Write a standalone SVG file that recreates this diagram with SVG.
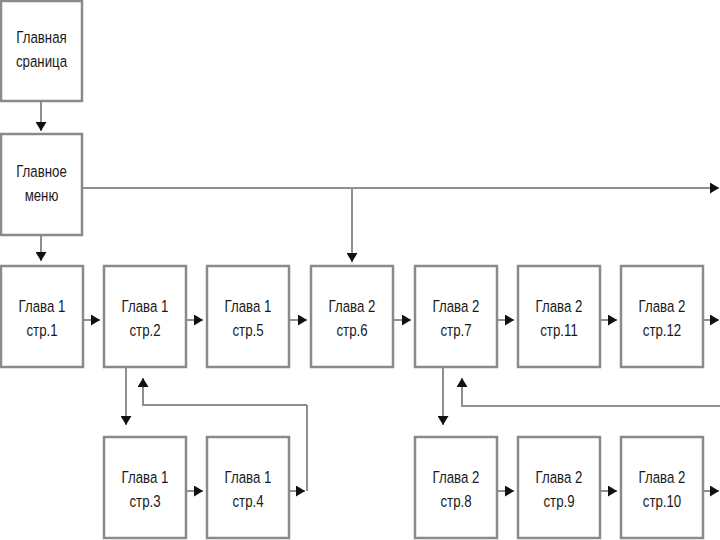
<svg xmlns="http://www.w3.org/2000/svg" width="720" height="540" viewBox="0 0 720 540">
<defs>
<marker id="ah" markerUnits="userSpaceOnUse" markerWidth="10" markerHeight="11" refX="9" refY="5.5" orient="auto">
<path d="M0,0 L9,5.5 L0,11 z" fill="#111"/>
</marker>
<style>
rect.b{fill:#fff;stroke:#8a8a8a;stroke-width:2.5}
text{font-family:"Liberation Sans",Arial,sans-serif;font-size:17px;fill:#1a1a1a;text-anchor:middle}
#connectors path{fill:none;stroke:#8f8f8f;stroke-width:2}
</style>
</defs>
<rect width="720" height="540" fill="#fff"/>
<g id="connectors">
<path d="M41,102 V131" marker-end="url(#ah)"/>
<path d="M41,235 V261" marker-end="url(#ah)"/>
<path d="M82,188 H719" marker-end="url(#ah)"/>
<path d="M352,188 V262" marker-end="url(#ah)"/>
<path d="M83,320 H100" marker-end="url(#ah)"/>
<path d="M186,320 H203" marker-end="url(#ah)"/>
<path d="M289,320 H307" marker-end="url(#ah)"/>
<path d="M393,320 H411" marker-end="url(#ah)"/>
<path d="M497,320 H514" marker-end="url(#ah)"/>
<path d="M600,320 H617" marker-end="url(#ah)"/>
<path d="M703,320 H719" marker-end="url(#ah)"/>
<path d="M126,367 V425" marker-end="url(#ah)"/>
<path d="M307,405 H143 V378" marker-end="url(#ah)"/>
<path d="M307,405 V491"/>
<path d="M289,491 H305" marker-end="url(#ah)"/>
<path d="M186,491 H203" marker-end="url(#ah)"/>
<path d="M443,367 V425" marker-end="url(#ah)"/>
<path d="M720,406 H462 V378" marker-end="url(#ah)"/>
<path d="M497,491 H514" marker-end="url(#ah)"/>
<path d="M600,491 H617" marker-end="url(#ah)"/>
<path d="M703,491 H719" marker-end="url(#ah)"/>
</g>
<g id="main"><rect class="b" x="1" y="1" width="81" height="100"/>
<text transform="translate(41.5,43) scale(0.78,1)">Главная</text>
<text transform="translate(41.5,67) scale(0.78,1)">сраница</text></g>
<g id="menu"><rect class="b" x="1" y="134" width="81" height="101"/>
<text transform="translate(41.5,177) scale(0.78,1)">Главное</text>
<text transform="translate(41.5,201) scale(0.78,1)">меню</text></g>
<g id="p1"><rect class="b" x="1" y="266" width="82" height="101"/>
<text transform="translate(42,312) scale(0.78,1)">Глава 1</text>
<text transform="translate(42,336) scale(0.78,1)">стр.1</text></g>
<g id="p2"><rect class="b" x="104" y="266" width="82" height="101"/>
<text transform="translate(145,312) scale(0.78,1)">Глава 1</text>
<text transform="translate(145,336) scale(0.78,1)">стр.2</text></g>
<g id="p5"><rect class="b" x="207" y="266" width="82" height="101"/>
<text transform="translate(248,312) scale(0.78,1)">Глава 1</text>
<text transform="translate(248,336) scale(0.78,1)">стр.5</text></g>
<g id="p6"><rect class="b" x="311" y="266" width="82" height="101"/>
<text transform="translate(352,312) scale(0.78,1)">Глава 2</text>
<text transform="translate(352,336) scale(0.78,1)">стр.6</text></g>
<g id="p7"><rect class="b" x="415" y="266" width="82" height="101"/>
<text transform="translate(456,312) scale(0.78,1)">Глава 2</text>
<text transform="translate(456,336) scale(0.78,1)">стр.7</text></g>
<g id="p11"><rect class="b" x="518" y="266" width="82" height="101"/>
<text transform="translate(559,312) scale(0.78,1)">Глава 2</text>
<text transform="translate(559,336) scale(0.78,1)">стр.11</text></g>
<g id="p12"><rect class="b" x="621" y="266" width="82" height="101"/>
<text transform="translate(662,312) scale(0.78,1)">Глава 2</text>
<text transform="translate(662,336) scale(0.78,1)">стр.12</text></g>
<g id="p3"><rect class="b" x="104" y="437" width="82" height="101"/>
<text transform="translate(145,483) scale(0.78,1)">Глава 1</text>
<text transform="translate(145,507) scale(0.78,1)">стр.3</text></g>
<g id="p4"><rect class="b" x="207" y="437" width="82" height="101"/>
<text transform="translate(248,483) scale(0.78,1)">Глава 1</text>
<text transform="translate(248,507) scale(0.78,1)">стр.4</text></g>
<g id="p8"><rect class="b" x="415" y="437" width="82" height="101"/>
<text transform="translate(456,483) scale(0.78,1)">Глава 2</text>
<text transform="translate(456,507) scale(0.78,1)">стр.8</text></g>
<g id="p9"><rect class="b" x="518" y="437" width="82" height="101"/>
<text transform="translate(559,483) scale(0.78,1)">Глава 2</text>
<text transform="translate(559,507) scale(0.78,1)">стр.9</text></g>
<g id="p10"><rect class="b" x="621" y="437" width="82" height="101"/>
<text transform="translate(662,483) scale(0.78,1)">Глава 2</text>
<text transform="translate(662,507) scale(0.78,1)">стр.10</text></g>
</svg>
